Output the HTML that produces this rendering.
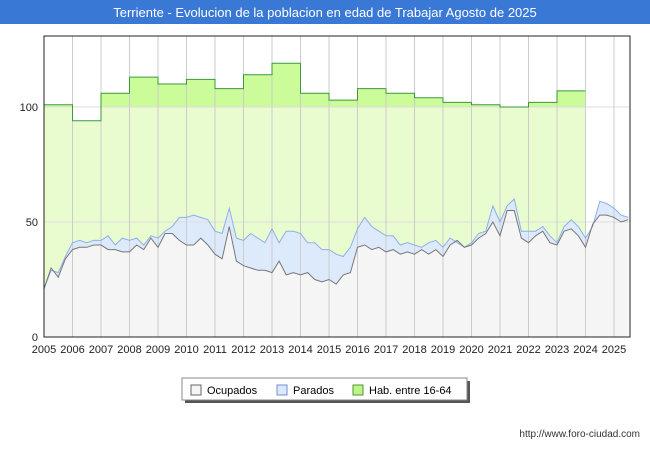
<!DOCTYPE html>
<html><head><meta charset="utf-8"><style>
body{margin:0;width:650px;height:450px;background:#fff;font-family:"Liberation Sans",sans-serif;overflow:hidden}
</style></head><body>
<svg id="c" width="650" height="450" xmlns="http://www.w3.org/2000/svg">
<rect x="0" y="0" width="650" height="24" fill="#3a78d6"/>
<text x="325" y="17" text-anchor="middle" fill="#fff" font-size="13">Terriente - Evolucion de la poblacion en edad de Trabajar Agosto de 2025</text>
<g id="plot"></g>
<g>
<rect x="185" y="381" width="285" height="22" fill="#555"/>
<rect x="182" y="378" width="285" height="22" fill="#fff" stroke="#888"/>
<rect x="191" y="385" width="10" height="10" fill="#f5f5f5" stroke="#666"/>
<text x="207" y="394" font-size="11">Ocupados</text>
<rect x="277" y="385" width="10" height="10" fill="#dde9fb" stroke="#6f8fcf"/>
<text x="293" y="394" font-size="11">Parados</text>
<rect x="353" y="385" width="10" height="10" fill="#bff28c" stroke="#4a9a2a"/>
<text x="369" y="394" font-size="11">Hab. entre 16-64</text>
</g>
<text x="640" y="437" text-anchor="end" font-size="10" fill="#333">http://www.foro-ciudad.com</text>
</svg>
<script>
const years=[2005,2006,2007,2008,2009,2010,2011,2012,2013,2014,2015,2016,2017,2018,2019,2020,2021,2022,2023,2024,2025];
const habValues=[101,94,106,113,110,112,108,114,119,106,103,108,106,104,102,101,100,102,107];
const ocupados=[21,30,26,34,38,39,39,40,40,38,38,37,37,40,38,43,39,45,45,42,40,40,43,40,36,34,48,33,31,30,29,29,28,33,27,28,27,28,25,24,25,23,27,28,39,40,38,39,37,38,36,37,36,38,36,38,35,40,42,39,40,43,45,50,44,55,55,43,41,44,46,41,40,46,47,44,39,49,53,53,52,50,51];
const parados=[21,29,28,35,41,42,41,42,42,44,40,43,42,43,40,44,43,46,48,52,52,53,52,51,46,45,56,43,42,45,43,41,47,41,46,46,45,41,41,38,38,36,35,39,47,52,48,46,44,44,40,41,40,39,41,42,39,43,41,39,41,45,46,57,50,57,60,46,46,46,48,44,41,48,51,48,43,48,59,58,56,53,52];
const yTicks=[0,50,100];
const NS="http://www.w3.org/2000/svg";
const X0=44,X1=630,Y0=337,YT=36;
const xs=t=>X0+(t-2005)*28.5;
const ys=v=>Y0-v*2.3;
const g=document.getElementById('plot');
function mk(tag,at){const e=document.createElementNS(NS,tag);for(const k in at)e.setAttribute(k,at[k]);g.appendChild(e);return e;}
const bg=mk('rect',{x:X0,y:YT,width:X1-X0,height:Y0-YT,fill:'#fff'});


// hab fill
let hp=`M${xs(2005)},${ys(0)}`;
habValues.forEach((v,i)=>{hp+=` L${xs(years[i])},${ys(v)} L${xs(years[i]+1)},${ys(v)}`;});
hp+=` L${xs(2005+habValues.length)},${ys(0)} Z`;
const hf=mk('path',{d:hp,fill:'#e8fcd0'});


// darker band above 100 approx: draw hab top region
let hp2='';
habValues.forEach((v,i)=>{hp2+=`${i?'L':'M'}${xs(years[i])},${ys(v)} L${xs(years[i]+1)},${ys(v)} `;});
const tx=t=>xs(2005+t/4);
function area(arr){let d=`M${tx(0)},${ys(0)}`;arr.forEach((v,i)=>d+=` L${tx(i)},${ys(v)}`);d+=` L${tx(arr.length-1)},${ys(0)} Z`;return d;}
function line(arr){return arr.map((v,i)=>`${i?'L':'M'}${tx(i)},${ys(v)}`).join(' ');}
const pa=mk('path',{d:area(parados),fill:'#ddeafc'});


const oa=mk('path',{d:area(ocupados),fill:'#f5f5f5'});


// grid
yTicks.forEach(v=>{
 const l=mk('line',{x1:X0,x2:X1,y1:ys(v),y2:ys(v),stroke:'#ddd'});
 
 
 const t=mk('text',{x:X0-6,y:ys(v)+4,'text-anchor':'end','font-size':11,fill:'#222'});t.textContent=v;
 
 
});
years.forEach(y=>{
 const l=mk('line',{x1:xs(y),x2:xs(y),y1:YT,y2:Y0,stroke:'#ccc'});
 
 
 const t=mk('text',{x:xs(y),y:Y0+16,'text-anchor':'middle','font-size':11,fill:'#222'});t.textContent=y;
 
 
});
const hl=mk('path',{d:hp2,fill:'none',stroke:'#3a9a3a','stroke-width':1});


const pl=mk('path',{d:line(parados),fill:'none',stroke:'#8fb0e8','stroke-width':1});


const ol=mk('path',{d:line(ocupados),fill:'none',stroke:'#777','stroke-width':1});


const fr=mk('rect',{x:X0,y:YT,width:X1-X0,height:Y0-YT,fill:'none',stroke:'#222'});


// hab fill above top in stronger green: overlay band between hab line and 100? draw band
let band='';
habValues.forEach((v,i)=>{if(v>100)band+=`M${xs(years[i])},${ys(v)} H${xs(years[i]+1)} V${ys(100)} H${xs(years[i])} Z `;});
const bd=mk('path',{d:band,fill:'#ccfc9a'});


g.insertBefore(bd,pa);
</script>
</body></html>
